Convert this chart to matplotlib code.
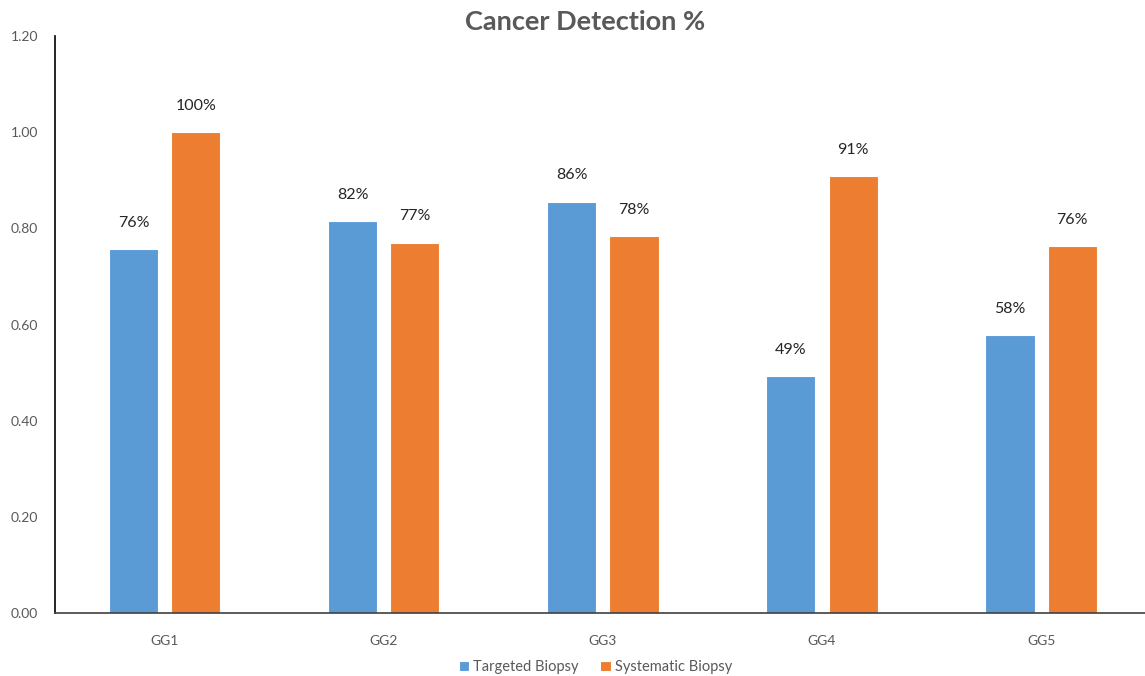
import numpy as np
import matplotlib.pyplot as plt

groups = ["GG1", "GG2", "GG3", "GG4", "GG5"]
targeted = [0.757, 0.815, 0.855, 0.493, 0.578]
systematic = [1.00, 0.770, 0.784, 0.909, 0.763]
yticks = [0.0, 0.2, 0.4, 0.6, 0.8, 1.0, 1.2]

plt.rcParams["font.family"] = ["Lato", "DejaVu Sans"]

fig = plt.figure(figsize=(11.45, 6.76), dpi=100)
ax = fig.add_axes([0.048, 0.0932, 0.957, 0.8535])

x = np.arange(len(groups))
width = 0.224
offset = 0.142

b1 = ax.bar(x - offset, targeted, width, color="#5B9BD5", edgecolor="white",
            linewidth=0.8, label="Targeted Biopsy")
b2 = ax.bar(x + offset, systematic, width, color="#ED7D31", edgecolor="white",
            linewidth=0.8, label="Systematic Biopsy")

# value labels above each bar
for bars, vals in ((b1, targeted), (b2, systematic)):
    for bar, v in zip(bars, vals):
        ax.annotate(f"{v:.0%}", (bar.get_x() + bar.get_width() / 2, v),
                    xytext=(0, 14), textcoords="offset points",
                    ha="center", va="bottom", fontsize=11.5, color="#262626")

ax.set_xlim(-0.5, 4.5)
ax.set_ylim(0, 1.2)
ax.set_yticks(yticks)
ax.set_yticklabels([f"{t:.2f}" for t in yticks])
ax.set_xticks(x)
ax.set_xticklabels(groups)
ax.tick_params(axis="both", length=0, labelsize=10, colors="#595959")
ax.tick_params(axis="x", pad=16)
ax.tick_params(axis="y", pad=12)

ax.spines["top"].set_visible(False)
ax.spines["right"].set_visible(False)
ax.spines["left"].set_color("black")
ax.spines["left"].set_linewidth(1.2)
ax.spines["bottom"].set_color("#404040")
ax.spines["bottom"].set_linewidth(1.2)

fig.text(0.511, 0.967, "Cancer Detection %", fontsize=19.5, fontweight="bold",
         color="#595959", ha="center", va="center")

fig.legend(loc="lower center", bbox_to_anchor=(0.52, -0.017), ncol=2,
           frameon=False, fontsize=10.5, handlelength=0.7, handleheight=0.7,
           handletextpad=0.3, columnspacing=1.5, labelcolor="#595959")

fig.savefig("out.png", dpi=100)
